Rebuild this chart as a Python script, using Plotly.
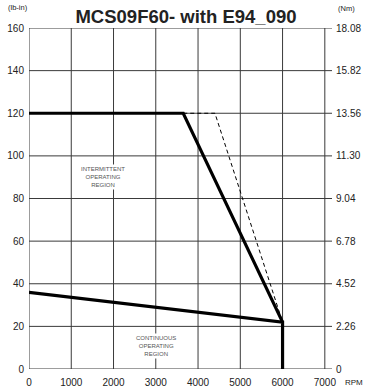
import plotly.graph_objects as go

# speed / torque curve data (lb-in)
inter_rpm = [0, 3650, 6000]
inter_torque = [120, 120, 22]
peak_rpm = [3650, 4400, 6000]
peak_torque = [120, 120, 22]
cont_rpm = [0, 6000, 6000]
cont_torque = [36, 22, 0]

x_ticks = [0, 1000, 2000, 3000, 4000, 5000, 6000, 7000]
lbin_ticks = [0, 20, 40, 60, 80, 100, 120, 140, 160]
nm_labels = ["0", "2.26", "4.52", "6.78", "9.04", "11.30", "13.56", "15.82", "18.08"]

FONT = "Liberation Sans, Arial, sans-serif"
GRID = "#3a3a3a"
TXT = "#222222"

W, H = 365, 391
ML, MR, MT, MB = 29, 33, 28, 22
pw, ph = W - ML - MR, H - MT - MB


def px(xp):
    # pixel x -> paper x
    return (xp - ML) / pw


def py(yp):
    # pixel y -> paper y
    return (H - MB - yp) / ph


fig = go.Figure()

fig.add_trace(go.Scatter(x=peak_rpm, y=peak_torque, mode="lines",
                         line=dict(color="black", width=1, dash="4px,3px"),
                         showlegend=False))
fig.add_trace(go.Scatter(x=inter_rpm, y=inter_torque, mode="lines",
                         line=dict(color="black", width=3.2),
                         showlegend=False))
fig.add_trace(go.Scatter(x=cont_rpm, y=cont_torque, mode="lines",
                         line=dict(color="black", width=3.2),
                         showlegend=False))
# invisible trace so the right axis is drawn
fig.add_trace(go.Scatter(x=[0], y=[0], yaxis="y2", mode="markers",
                         marker=dict(opacity=0), showlegend=False, hoverinfo="skip"))

# vertical grid lines stop at 7000, horizontal ones run to the right edge
for xv in x_ticks:
    fig.add_shape(type="line", x0=xv, x1=xv, y0=0, y1=160, xref="x", yref="y",
                  line=dict(color=GRID, width=1), layer="below")
for yv in lbin_ticks:
    fig.add_shape(type="line", x0=-60, x1=7170, y0=yv, y1=yv, xref="x", yref="y",
                  line=dict(color=GRID, width=1), layer="below")

region_font = dict(family=FONT, size=6, color="#555555")
fig.add_annotation(x=1750, y=90, text="INTERMITTENT<br>OPERATING<br>REGION",
                   showarrow=False, font=region_font, bgcolor="white")
fig.add_annotation(x=3000, y=11, text="CONTINUOUS<br>OPERATING<br>REGION",
                   showarrow=False, font=region_font, bgcolor="white")

unit_font = dict(family=FONT, size=7.5, color=TXT)
fig.add_annotation(x=px(6), y=py(7), xref="paper", yref="paper", xanchor="left",
                   yanchor="middle", text="(lb-in)", showarrow=False, font=unit_font)
fig.add_annotation(x=px(336), y=py(8), xref="paper", yref="paper", xanchor="left",
                   yanchor="middle", text="(Nm)", showarrow=False, font=unit_font)
fig.add_annotation(x=px(343), y=py(382), xref="paper", yref="paper", xanchor="left",
                   yanchor="middle", text="RPM", showarrow=False,
                   font=dict(family=FONT, size=8, color=TXT))

fig.update_layout(
    width=W, height=H,
    margin=dict(l=ML, r=MR, t=MT, b=MB, autoexpand=False),
    paper_bgcolor="white", plot_bgcolor="white",
    font=dict(family=FONT, size=10, color=TXT),
    title=dict(text="<b>MCS09F60- with E94_090</b>", x=186 / W,
               xanchor="center", y=1 - 17 / H, yanchor="middle",
               font=dict(family=FONT, size=18.5, color=TXT)),
    xaxis=dict(range=[0, 7170], tickvals=x_ticks, showgrid=False, zeroline=False,
               showline=False, ticks="", automargin=False, ticklabelstandoff=6,
               tickfont=dict(size=10)),
    yaxis=dict(range=[0, 160], tickvals=lbin_ticks, showgrid=False, zeroline=False,
               showline=False, ticks="", automargin=False, ticklabelstandoff=4,
               tickfont=dict(size=10)),
    yaxis2=dict(range=[0, 18.08], overlaying="y", side="right",
                tickvals=[i * 2.26 for i in range(9)], ticktext=nm_labels,
                showgrid=False, zeroline=False, showline=False, ticks="",
                automargin=False, ticklabelstandoff=3, tickfont=dict(size=10)),
)

# drop the default body margin so the figure sits at the window's corner
fig.write_html("out.html", config={"displayModeBar": False},
               post_script="document.body.style.margin='0px';")
